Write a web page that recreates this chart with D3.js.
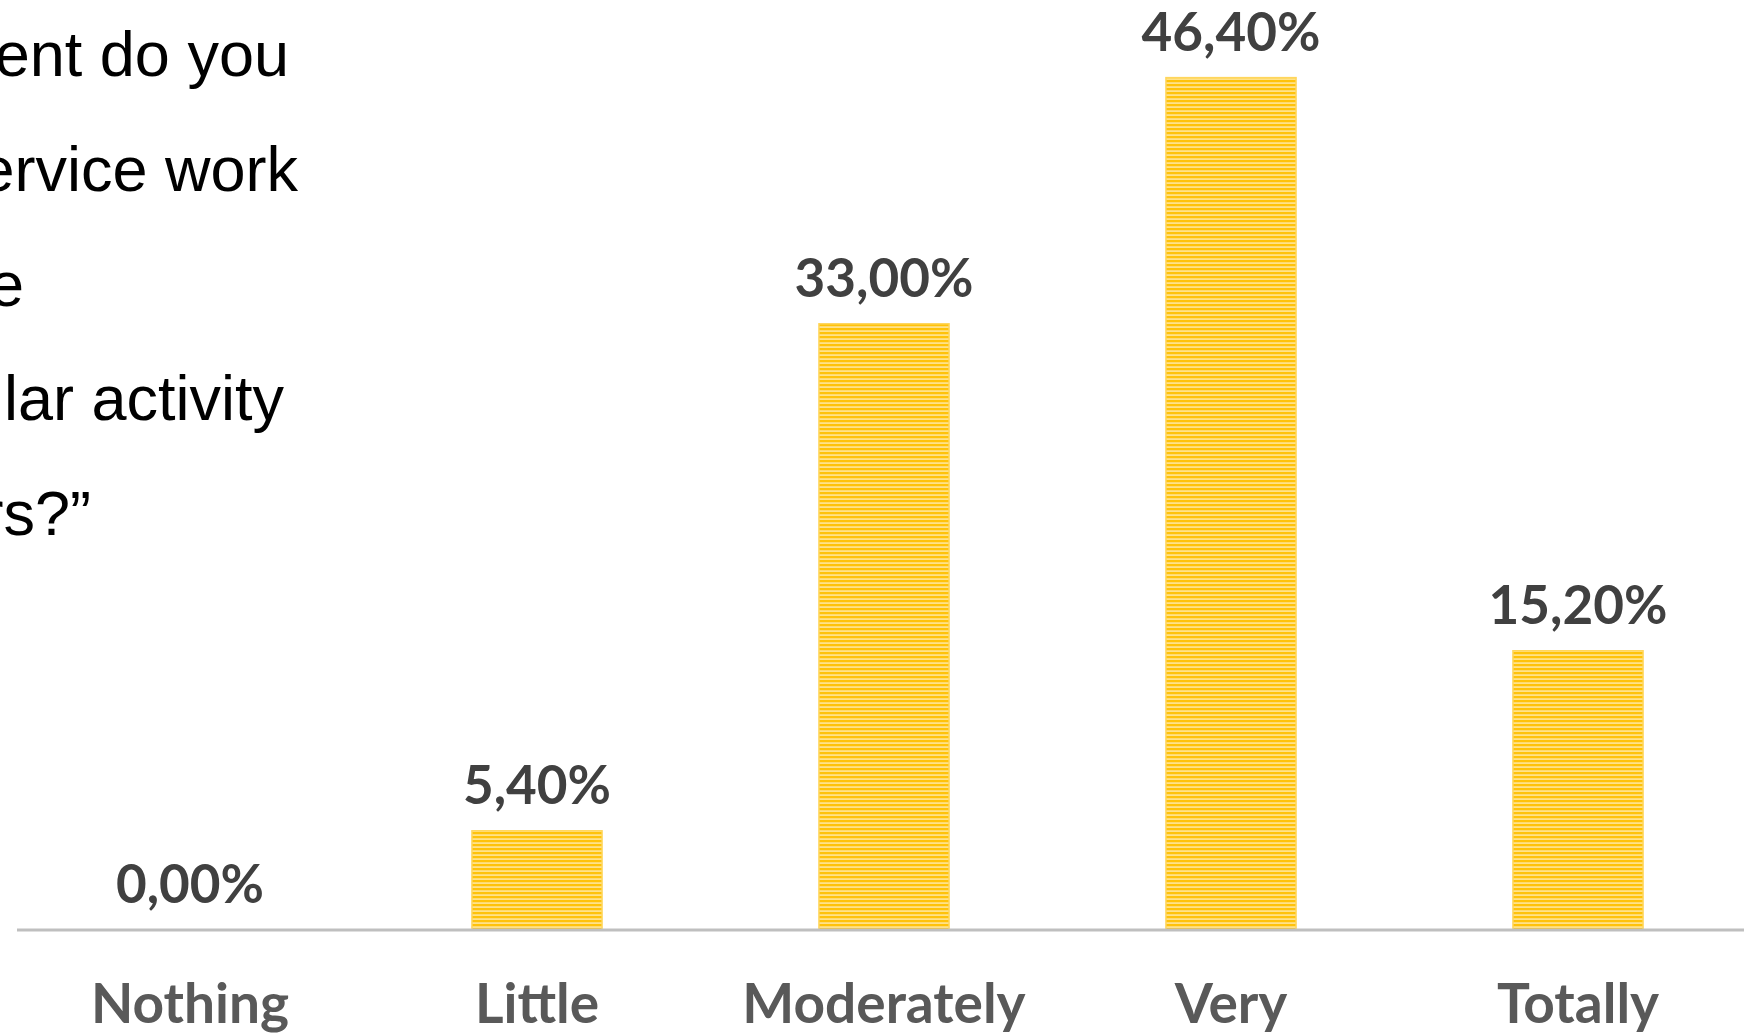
<!DOCTYPE html>
<html>
<head>
<meta charset="utf-8">
<script src="https://cdn.jsdelivr.net/npm/d3@7"></script>
<style>
  html, body { margin: 0; padding: 0; background: #fff; overflow: hidden; }
</style>
</head>
<body>
<div class="chart"></div>
<script>
  // Chart data
  const categories = ["Nothing", "Little", "Moderately", "Very", "Totally"];
  const values = [0.0, 5.4, 33.0, 46.4, 15.2];
  const valueLabels = ["0,00%", "5,40%", "33,00%", "46,40%", "15,20%"];
  // question text, cut off at the left edge of the picture
  const titleLines = ["ent do you", "ervice work", "e", "lar activity", "rs?\u201D"];
  const titleRight = [289, 298, 24, 284, 91];

  const w = 1744;
  const h = 1034;
  const baseY = 930;

  const svg = d3.select(".chart")
    .append("svg")
    .attr("width", w)
    .attr("height", h);

  /* Striped fill for the bars */
  const defs = svg.append("defs");
  const pat = defs.append("pattern")
    .attr("id", "stripes")
    .attr("patternUnits", "userSpaceOnUse")
    .attr("width", 8)
    .attr("height", 4);
  pat.append("rect").attr("width", 8).attr("height", 4).attr("fill", "#FFE28A");
  pat.append("rect").attr("y", 0).attr("width", 8).attr("height", 2.2).attr("fill", "#FFC20A");

  /* Scales */
  const xScale = d3.scaleBand()
    .domain(categories)
    .range([16.5, 1751.5])
    .paddingInner(0.625)
    .paddingOuter(0.3125);

  const yScale = d3.scaleLinear()
    .domain([0, 50])
    .range([baseY, 11.5]);

  /* Title (clipped at the left edge) */
  svg.append("g")
    .selectAll("text")
    .data(titleLines)
    .enter()
    .append("text")
    .attr("x", (d, i) => titleRight[i])
    .attr("y", (d, i) => 76 + i * 114.75)
    .attr("text-anchor", "end")
    .attr("font-family", "'Liberation Sans', Arial, sans-serif")
    .attr("font-size", 63)
    .attr("fill", "#000")
    .text(d => d);

  /* Bars */
  svg.selectAll("rect.bar")
    .data(values)
    .enter()
    .append("rect")
    .attr("class", "bar")
    .attr("x", (d, i) => xScale(categories[i]))
    .attr("y", d => yScale(d))
    .attr("width", xScale.bandwidth())
    .attr("height", d => baseY - yScale(d))
    .attr("fill", "url(#stripes)")
    .attr("stroke", "#FFD65C")
    .attr("stroke-width", 1.5);

  /* Value labels */
  svg.selectAll("text.val")
    .data(values)
    .enter()
    .append("text")
    .attr("class", "val")
    .attr("x", (d, i) => xScale(categories[i]) + xScale.bandwidth() / 2)
    .attr("y", d => yScale(d) - 27)
    .attr("text-anchor", "middle")
    .attr("font-family", "Lato, 'Open Sans', sans-serif")
    .attr("font-weight", "bold")
    .attr("font-size", 53)
    .attr("fill", "#404040")
    .text((d, i) => valueLabels[i]);

  /* X axis */
  const xAxis = d3.axisBottom(xScale).tickSize(0).tickPadding(0);
  const gx = svg.append("g")
    .attr("id", "x-axis")
    .attr("transform", "translate(0," + baseY + ")")
    .call(xAxis);
  gx.select(".domain")
    .attr("d", "M17,0H1744")
    .attr("stroke", "#BFBFBF")
    .attr("stroke-width", 3);
  gx.selectAll(".tick text")
    .attr("dy", 0)
    .attr("y", 93)
    .attr("font-family", "Lato, 'Open Sans', sans-serif")
    .attr("font-weight", "bold")
    .attr("font-size", 55)
    .attr("fill", "#595959");
</script>
</body>
</html>
